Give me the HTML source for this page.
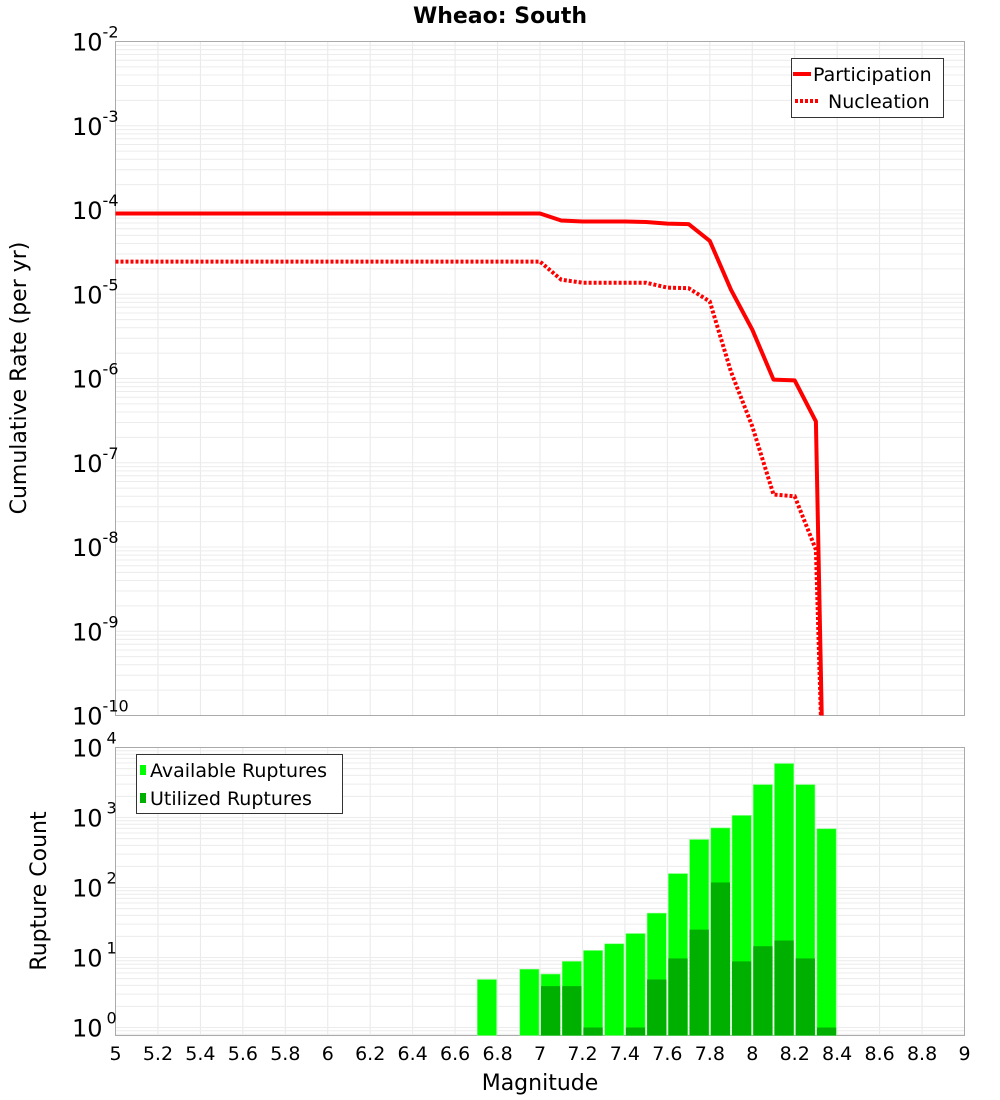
<!DOCTYPE html>
<html><head><meta charset="utf-8"><style>
html,body{margin:0;padding:0;background:#fff;}
svg{display:block;font-family:"DejaVu Sans","Liberation Sans",sans-serif;}
</style></head><body>
<svg id="chart" width="1000" height="1100" xmlns="http://www.w3.org/2000/svg">
<defs>
<clipPath id="clipTop"><rect x="115.5" y="41.5" width="849" height="674"/></clipPath>
</defs>
<text x="500" y="23" text-anchor="middle" font-weight="bold" font-size="22">Wheao: South</text>
<g id="topGrid"></g>
<g id="botGrid"></g>
<rect x="115.5" y="41.5" width="849" height="674" fill="none" stroke="#aaa"/>
<rect x="115.5" y="747.5" width="849" height="288" fill="none" stroke="#aaa"/>
<g id="bars"></g>
<g id="lines" clip-path="url(#clipTop)"></g>
<g id="topTicks"></g>
<g id="botTicks"></g>
<g id="xTicks"></g>
<text transform="translate(26,378) rotate(-90)" text-anchor="middle" font-size="22">Cumulative Rate (per yr)</text>
<text transform="translate(46,891) rotate(-90)" text-anchor="middle" font-size="22">Rupture Count</text>
<text x="540" y="1090" text-anchor="middle" font-size="22">Magnitude</text>
<g>
<rect x="791.5" y="58.5" width="152" height="59" fill="#fff" stroke="#333"/>
<line x1="793" y1="74" x2="811" y2="74" stroke="#f00" stroke-width="4"/>
<text x="813" y="81" font-size="19">Participation</text>
<line x1="795" y1="101" x2="820" y2="101" stroke="#f00" stroke-width="4" stroke-dasharray="3,2"/>
<text x="828" y="108" font-size="19">Nucleation</text>
</g>
<g>
<rect x="136.5" y="754.5" width="206" height="59" fill="#fff" stroke="#333"/>
<rect x="140" y="765" width="6" height="10" fill="#00ff00"/>
<text x="150" y="777" font-size="19">Available Ruptures</text>
<rect x="140" y="793" width="6" height="10" fill="#00b000"/>
<text x="150" y="805" font-size="19">Utilized Ruptures</text>
</g>
</svg>
<script>
const NS="http://www.w3.org/2000/svg";
const rateMags=[5.0,7.0,7.1,7.2,7.3,7.4,7.5,7.6,7.7,7.8,7.9,8.0,8.1,8.2,8.3,8.335];
const participation=[9.1e-5,9.1e-5,7.5e-5,7.3e-5,7.3e-5,7.3e-5,7.2e-5,6.9e-5,6.8e-5,4.3e-5,1.13e-5,3.8e-6,9.7e-7,9.5e-7,3.1e-7,1e-11];
const nucleation=[2.44e-5,2.44e-5,1.49e-5,1.37e-5,1.37e-5,1.37e-5,1.37e-5,1.2e-5,1.18e-5,8.2e-6,1.2e-6,2.7e-7,4.2e-8,4.0e-8,9.3e-9,1e-11];
const barMags=[6.75,6.95,7.05,7.15,7.25,7.35,7.45,7.55,7.65,7.75,7.85,7.95,8.05,8.15,8.25,8.35];
const available=[4.85,6.8,5.8,8.8,12.6,15.7,22,43,158,485,710,1070,2950,5900,2950,690];
const utilized=[0,0,3.9,3.9,1,0,1,4.85,9.7,25,118,8.8,14.5,17.5,9.7,1];
const xTickLabels=["5","5.2","5.4","5.6","5.8","6","6.2","6.4","6.6","6.8","7","7.2","7.4","7.6","7.8","8","8.2","8.4","8.6","8.9","9"];
const topExps=[-2,-3,-4,-5,-6,-7,-8,-9,-10];
const botExps=[4,3,2,1,0];

const X0=115.5,X1=964.5;
const xs=m=>X0+(m-5)/4*(X1-X0);
const yTop=v=>41.5+(-2-Math.log10(v))*(674/8);
const yBot=v=>747.5+(4-Math.log10(v))*70;
const BOTB=1035.5;
function mk(tag,attrs,parent){const e=document.createElementNS(NS,tag);for(const k in attrs)e.setAttribute(k,attrs[k]);parent.appendChild(e);return e;}

// grids
const tg=document.getElementById('topGrid'),bg=document.getElementById('botGrid');
for(let i=1;i<20;i++){const x=xs(5+i*0.2);
 mk('line',{x1:x,x2:x,y1:41.5,y2:715.5,stroke:'#e8e8e8'},tg);
 mk('line',{x1:x,x2:x,y1:747.5,y2:1035.5,stroke:'#e8e8e8'},bg);}
for(let e=-10;e<-2;e++)for(let k=1;k<10;k++){const y=yTop(k*Math.pow(10,e));
 mk('line',{x1:X0,x2:X1,y1:y,y2:y,stroke:'#ececec'},tg);}
for(let e=-1;e<4;e++)for(let k=1;k<10;k++){const y=yBot(k*Math.pow(10,e));
 if(y<747.5||y>1035.5)continue;
 mk('line',{x1:X0,x2:X1,y1:y,y2:y,stroke:'#ececec'},bg);}

// bars
const bars=document.getElementById('bars');
const bw=(X1-X0)/40;
barMags.forEach((m,i)=>{
 const x=xs(m)-bw/2+1;
 if(available[i]>0){const y=yBot(available[i]);
  const r=mk('rect',{x:x,y:y,width:bw-2,height:BOTB-y,fill:'#00ff00',stroke:'#7fff7f','stroke-width':0.6},bars);
  
  }
 if(utilized[i]>0){const y=Math.min(yBot(utilized[i]),BOTB-7);
  const r=mk('rect',{x:x,y:y,width:bw-2,height:BOTB-y,fill:'#00b000'},bars);
  
  }
});

// lines
const lg=document.getElementById('lines');
function pts(arr){return rateMags.map((m,i)=>xs(m).toFixed(1)+','+yTop(arr[i]).toFixed(1)).join(' ');}
const p1=mk('polyline',{points:pts(participation),fill:'none',stroke:'#f00','stroke-width':4,'stroke-linejoin':'round'},lg);


const p2=mk('polyline',{points:pts(nucleation),fill:'none',stroke:'#f00','stroke-width':4,'stroke-dasharray':'3,2'},lg);



// ticks
const tt=document.getElementById('topTicks');
topExps.forEach(e=>{const y=yTop(Math.pow(10,e));
 const t=mk('text',{x:72,y:y+9,'font-size':24},tt);
 
 
 t.textContent='10';
 const s=mk('tspan',{dy:-13,'font-size':16},t);s.textContent=String(e);});
const bt=document.getElementById('botTicks');
botExps.forEach(e=>{const y=yBot(Math.pow(10,e));
 const t=mk('text',{x:72,y:y+9,'font-size':24},bt);
 
 
 t.textContent='10';
 const s=mk('tspan',{dy:-13,'font-size':16,dx:4},t);s.textContent=String(e);});
const xt=document.getElementById('xTicks');
xTickLabels.forEach((l,i)=>{const x=xs(5+i*0.2);
 const t=mk('text',{x:x,y:1060,'font-size':19,'text-anchor':'middle'},xt);
 
 
 t.textContent=(i===19?'8.8':l);});
</script>
</body></html>
